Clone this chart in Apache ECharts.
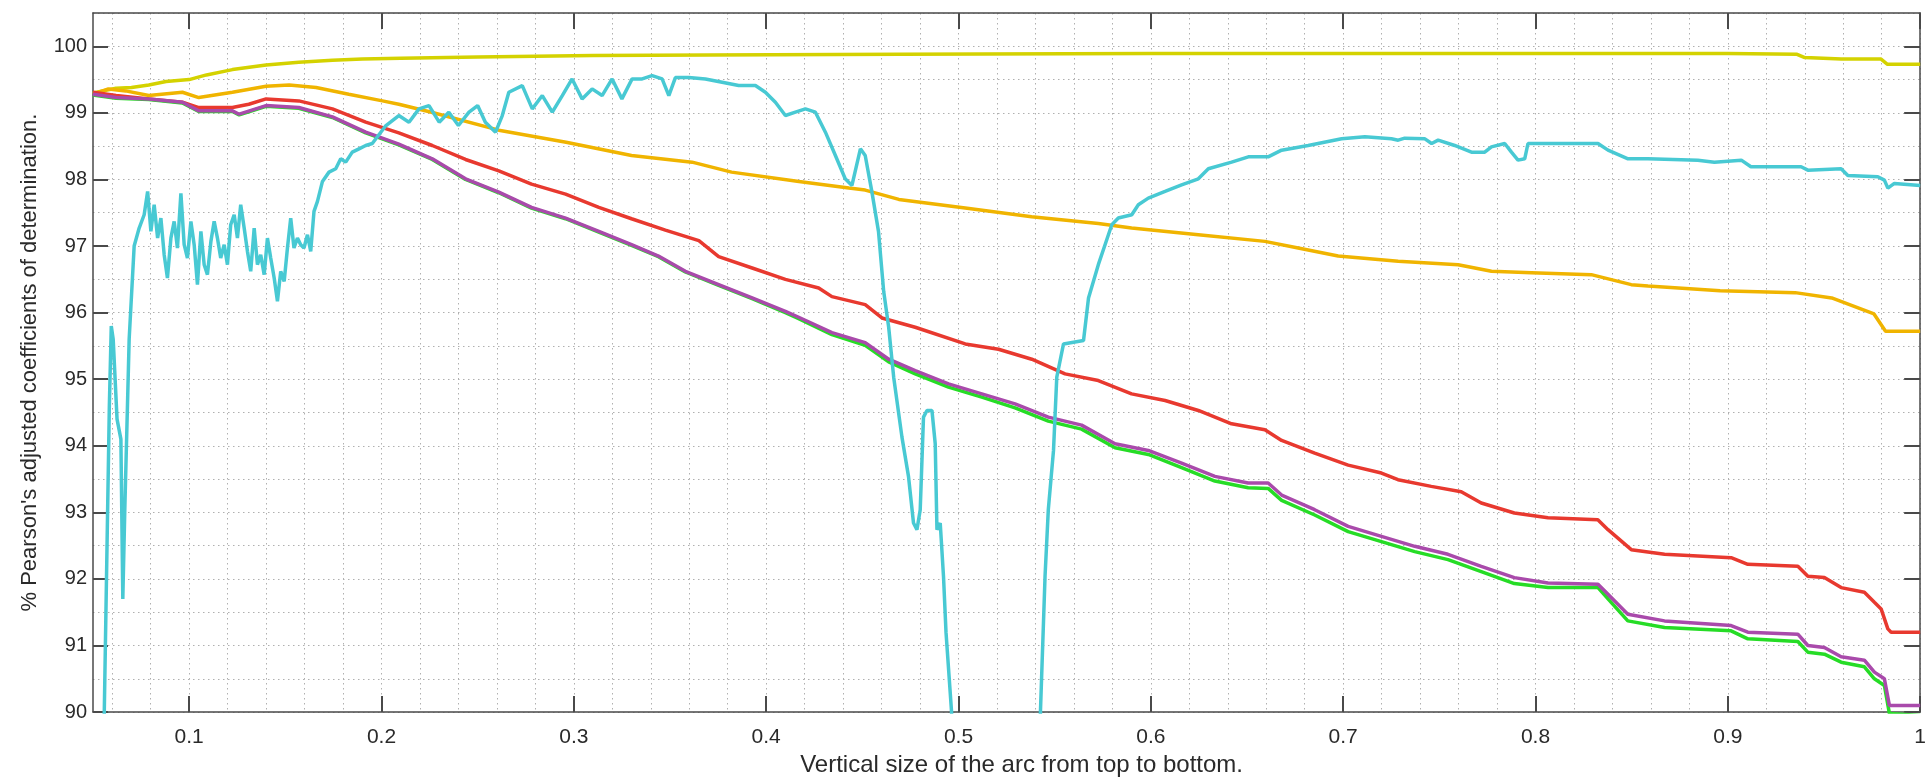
<!DOCTYPE html>
<html><head><meta charset="utf-8">
<script src="https://cdn.jsdelivr.net/npm/echarts@6/dist/echarts.min.js"></script>
<style>html,body{margin:0;padding:0;background:#fff}#c{width:1929px;height:782px}</style>
</head><body><div id="c"></div>
<script>
const xTickValues = [0.1,0.2,0.3,0.4,0.5,0.6,0.7,0.8,0.9,1];
const yTickValues = [90,91,92,93,94,95,96,97,98,99,100];
const xGridValues = [0.06,0.08,0.1,0.12,0.14,0.16,0.18,0.2,0.22,0.24,0.26,0.28,0.3,0.32,0.34,0.36,0.38,0.4,0.42,0.44,0.46,0.48,0.5,0.52,0.54,0.56,0.58,0.6,0.62,0.64,0.66,0.68,0.7,0.72,0.74,0.76,0.78,0.8,0.82,0.84,0.86,0.88,0.9,0.92,0.94,0.96,0.98,1];

const yellowX = [0.05,0.062,0.07,0.079,0.088,0.1,0.109,0.1225,0.14,0.157,0.1745,0.19,0.21,0.25,0.31,0.37,0.47,0.6,0.7,0.8,0.85,0.9,0.936,0.94,0.959,0.9795,0.983,1.0];
const yellowY = [99.3,99.37,99.38,99.42,99.47,99.5,99.57,99.65,99.72,99.76,99.79,99.81,99.82,99.84,99.86,99.87,99.88,99.89,99.89,99.89,99.89,99.89,99.88,99.83,99.81,99.81,99.73,99.73];

const orangeX = [0.05,0.058,0.067,0.079,0.0965,0.105,0.1225,0.14,0.152,0.166,0.183,0.2005,0.209,0.226,0.261,0.296,0.33,0.3615,0.382,0.417,0.443,0.4515,0.469,0.5035,0.538,0.5727,0.59,0.6247,0.6593,0.6766,0.6974,0.7286,0.7598,0.7771,0.7979,0.829,0.8498,0.8585,0.896,0.935,0.954,0.976,0.982,1.0];
const orangeY = [99.28,99.36,99.33,99.26,99.31,99.23,99.31,99.4,99.42,99.38,99.28,99.18,99.13,99.01,98.74,98.56,98.36,98.26,98.11,97.97,97.87,97.84,97.7,97.57,97.44,97.34,97.27,97.17,97.07,96.97,96.85,96.77,96.72,96.62,96.6,96.57,96.42,96.4,96.33,96.3,96.22,95.98,95.72,95.72];

const redX = [0.05,0.062,0.079,0.0965,0.105,0.1225,0.131,0.14,0.157,0.1745,0.1918,0.209,0.2264,0.2437,0.261,0.278,0.2957,0.313,0.33,0.3476,0.365,0.3753,0.3927,0.41,0.4273,0.4342,0.4515,0.4602,0.4775,0.5035,0.5208,0.5381,0.5554,0.5727,0.59,0.6074,0.6247,0.642,0.6593,0.668,0.6852,0.7026,0.7199,0.7285,0.7458,0.7614,0.7718,0.789,0.8065,0.8324,0.8377,0.8498,0.8671,0.9017,0.9104,0.9364,0.9416,0.9502,0.9589,0.971,0.9762,0.9797,0.9832,0.9849,1.0];
const redY = [99.31,99.26,99.21,99.16,99.08,99.08,99.13,99.21,99.18,99.06,98.86,98.7,98.51,98.3,98.13,97.93,97.78,97.58,97.41,97.24,97.08,96.84,96.67,96.5,96.37,96.24,96.12,95.92,95.78,95.53,95.45,95.3,95.08,94.98,94.78,94.68,94.53,94.33,94.24,94.08,93.89,93.71,93.59,93.49,93.39,93.31,93.14,92.99,92.92,92.89,92.74,92.44,92.37,92.32,92.22,92.19,92.04,92.02,91.87,91.8,91.65,91.55,91.25,91.2,91.2];

const magentaX = [0.05,0.062,0.079,0.0965,0.105,0.1225,0.126,0.14,0.157,0.1745,0.1918,0.209,0.2264,0.2437,0.261,0.278,0.2957,0.313,0.33,0.344,0.358,0.3753,0.3927,0.41,0.4169,0.4342,0.4515,0.4637,0.4775,0.4948,0.5121,0.5294,0.5467,0.564,0.5814,0.5987,0.616,0.6333,0.6506,0.661,0.668,0.6852,0.7026,0.7199,0.7372,0.7545,0.7718,0.789,0.8065,0.8325,0.8377,0.848,0.8671,0.9017,0.9104,0.9364,0.9416,0.9502,0.9589,0.971,0.9762,0.9814,0.984,1.0];
const magentaY = [99.28,99.23,99.21,99.16,99.03,99.03,98.98,99.11,99.08,98.94,98.71,98.53,98.31,98.01,97.81,97.58,97.42,97.22,97.02,96.85,96.62,96.42,96.22,96.02,95.93,95.7,95.55,95.3,95.13,94.93,94.78,94.63,94.43,94.31,94.03,93.93,93.74,93.54,93.44,93.44,93.26,93.04,92.79,92.64,92.49,92.37,92.19,92.02,91.94,91.92,91.77,91.47,91.37,91.3,91.2,91.17,91.0,90.97,90.83,90.78,90.6,90.5,90.1,90.1];
const greenY = [99.27,99.22,99.2,99.15,99.02,99.02,98.97,99.1,99.07,98.93,98.7,98.52,98.3,98.0,97.8,97.57,97.41,97.21,97.01,96.84,96.61,96.41,96.21,96.0,95.91,95.67,95.51,95.26,95.08,94.88,94.73,94.57,94.37,94.25,93.97,93.87,93.67,93.47,93.37,93.36,93.18,92.96,92.71,92.56,92.41,92.29,92.11,91.93,91.87,91.87,91.7,91.37,91.27,91.22,91.1,91.06,90.9,90.87,90.75,90.68,90.5,90.4,89.98,89.95];

const cyanX = [0.053,0.0585,0.0595,0.0605,0.0625,0.0645,0.0655,0.0665,0.0688,0.0714,0.074,0.0766,0.0784,0.0801,0.0818,0.0836,0.0853,0.087,0.0887,0.0905,0.0922,0.0939,0.0957,0.0974,0.0991,0.1009,0.1026,0.1043,0.1061,0.1078,0.1095,0.1113,0.113,0.1147,0.1164,0.1182,0.1199,0.1216,0.1234,0.1251,0.1268,0.1286,0.1303,0.132,0.1338,0.1355,0.1372,0.139,0.1407,0.1424,0.1442,0.1459,0.1476,0.1494,0.1511,0.1528,0.1545,0.1563,0.158,0.1597,0.1615,0.1632,0.1649,0.1667,0.1693,0.1727,0.1762,0.1788,0.1814,0.1848,0.1883,0.1918,0.1952,0.202,0.209,0.2143,0.2195,0.2247,0.23,0.235,0.24,0.2455,0.25,0.254,0.2593,0.2628,0.2662,0.2732,0.2784,0.2836,0.2888,0.294,0.2991,0.3043,0.3095,0.3147,0.3199,0.325,0.3303,0.3355,0.3407,0.3459,0.3494,0.3528,0.3598,0.3684,0.3771,0.3857,0.3944,0.3996,0.4048,0.41,0.4152,0.4204,0.4256,0.4308,0.436,0.4411,0.4446,0.449,0.4515,0.455,0.4584,0.4611,0.4637,0.4663,0.4706,0.474,0.4766,0.4784,0.4801,0.4818,0.4836,0.4862,0.4879,0.4888,0.4905,0.4922,0.4935,0.4964,0.4985,0.54,0.5426,0.545,0.5467,0.5494,0.5511,0.5546,0.565,0.5676,0.5727,0.5762,0.5797,0.5831,0.5901,0.5935,0.5987,0.6074,0.616,0.6247,0.6299,0.642,0.6507,0.661,0.668,0.6818,0.6992,0.7113,0.7251,0.7286,0.732,0.7425,0.746,0.7494,0.758,0.7667,0.7736,0.7771,0.784,0.7875,0.7909,0.7944,0.7961,0.8152,0.8325,0.8377,0.8481,0.8585,0.8844,0.893,0.907,0.912,0.9381,0.9416,0.9589,0.9624,0.978,0.9814,0.9832,0.9866,1.0];
const cyanY = [85,94.6,95.8,95.6,94.4,94.1,91.7,93.0,95.6,97.0,97.27,97.47,97.82,97.22,97.62,97.12,97.42,96.87,96.52,97.12,97.37,96.97,97.79,97.02,96.82,97.37,97.02,96.42,97.22,96.72,96.57,97.07,97.37,97.12,96.82,97.02,96.72,97.32,97.47,97.12,97.62,97.27,96.92,96.62,97.27,96.72,96.87,96.57,97.12,96.82,96.52,96.17,96.62,96.47,96.97,97.42,96.97,97.12,97.02,96.97,97.17,96.92,97.52,97.67,97.97,98.11,98.16,98.31,98.26,98.41,98.46,98.51,98.54,98.8,98.96,98.86,99.06,99.11,98.86,99.01,98.81,99.01,99.11,98.86,98.71,98.96,99.31,99.41,99.06,99.26,99.01,99.26,99.51,99.21,99.36,99.26,99.51,99.21,99.51,99.51,99.56,99.51,99.26,99.53,99.53,99.51,99.46,99.41,99.41,99.31,99.16,98.96,99.01,99.06,99.01,98.71,98.36,98.01,97.91,98.46,98.36,97.81,97.22,96.32,95.78,95.03,94.13,93.54,92.84,92.74,93.04,94.43,94.53,94.53,94.03,92.74,92.84,92.04,91.2,90.0,85,85,90.0,92.04,93.04,93.93,95.03,95.53,95.58,96.22,96.72,97.02,97.32,97.42,97.47,97.62,97.72,97.82,97.92,98.01,98.16,98.26,98.34,98.34,98.44,98.51,98.61,98.64,98.61,98.59,98.62,98.61,98.54,98.59,98.51,98.41,98.41,98.49,98.54,98.41,98.29,98.31,98.54,98.54,98.54,98.44,98.31,98.31,98.29,98.26,98.29,98.19,98.19,98.14,98.16,98.06,98.04,97.99,97.87,97.94,97.91];

const FONT = 'Liberation Sans';
const AX = '#4a4a4a';
const zip = (xs, ys) => xs.map((x, i) => [x, ys[i]]);

function lineSeries(name, xs, ys, color) {
  return { name, type: 'line', xAxisIndex: 0, yAxisIndex: 0, data: zip(xs, ys),
    showSymbol: false, symbol: 'none', clip: true, animation: false,
    lineStyle: { color, width: 3.5 } };
}

const chart = echarts.init(document.getElementById('c'), null, { renderer: 'canvas' });
chart.setOption({
  backgroundColor: '#ffffff',
  animation: false,
  grid: { left: 93, right: 7, top: 13, bottom: 64, containLabel: false },
  xAxis: [
    { type: 'value', position: 'bottom', min: 0.05, max: 1,
      name: 'Vertical size of the arc from top to bottom.', nameLocation: 'middle', nameGap: 37,
      nameTextStyle: { fontFamily: FONT, fontSize: 24, color: '#2a2a2a', padding: [0, 0, 0, 30] },
      axisLine: { show: true, onZero: false, lineStyle: { color: AX, width: 1.5 } },
      axisTick: { show: true, inside: true, length: 16, customValues: xTickValues, lineStyle: { color: AX, width: 2 } },
      axisLabel: { show: true, customValues: xTickValues, margin: 15, fontFamily: FONT, fontSize: 21, color: '#2a2a2a',
        formatter: v => String(Math.round(v * 10) / 10) },
      splitLine: { show: false } },
    { type: 'value', position: 'top', min: 0.05, max: 1,
      axisLine: { show: true, onZero: false, lineStyle: { color: AX, width: 1.5 } },
      axisTick: { show: true, inside: true, length: 16, customValues: xTickValues, lineStyle: { color: AX, width: 2 } },
      axisLabel: { show: false }, splitLine: { show: false } },
    { type: 'value', position: 'bottom', min: 0.05, max: 1,
      axisLine: { show: false }, axisLabel: { show: false },
      axisTick: { show: false, customValues: xGridValues },
      splitLine: { show: true, lineStyle: { color: '#b0b0b0', width: 1, type: [1.5, 3.5] } } }
  ],
  yAxis: [
    { type: 'value', position: 'left', min: 90, max: 100.5,
      name: "% Pearson's adjusted coefficients of determination.", nameLocation: 'middle', nameGap: 52, nameRotate: 90,
      nameTextStyle: { fontFamily: FONT, fontSize: 22, color: '#2a2a2a' },
      axisLine: { show: true, onZero: false, lineStyle: { color: AX, width: 1.5 } },
      axisTick: { show: true, inside: true, length: 15, customValues: yTickValues, lineStyle: { color: AX, width: 2 } },
      axisLabel: { show: true, customValues: yTickValues, margin: 6, fontFamily: FONT, fontSize: 20, color: '#2a2a2a' },
      splitLine: { show: false } },
    { type: 'value', position: 'right', min: 90, max: 100.5,
      axisLine: { show: true, onZero: false, lineStyle: { color: AX, width: 1.5 } },
      axisTick: { show: true, inside: true, length: 16, customValues: yTickValues, lineStyle: { color: AX, width: 2 } },
      axisLabel: { show: false }, splitLine: { show: false } },
    { type: 'value', position: 'left', min: 90, max: 100.5, interval: 0.5,
      axisLine: { show: false }, axisLabel: { show: false }, axisTick: { show: false },
      splitLine: { show: true, lineStyle: { color: '#b0b0b0', width: 1, type: [1.5, 3.5] } } }
  ],
  series: [
    lineSeries('A', yellowX, yellowY, '#d4d200'),
    lineSeries('B', orangeX, orangeY, '#f0b400'),
    lineSeries('C', redX, redY, '#e8392f'),
    lineSeries('D', magentaX, greenY, '#26dc26'),
    lineSeries('E', magentaX, magentaY, '#a94aab'),
    lineSeries('F', cyanX, cyanY, '#48c9d3')
  ]
});
</script>
</body></html>
